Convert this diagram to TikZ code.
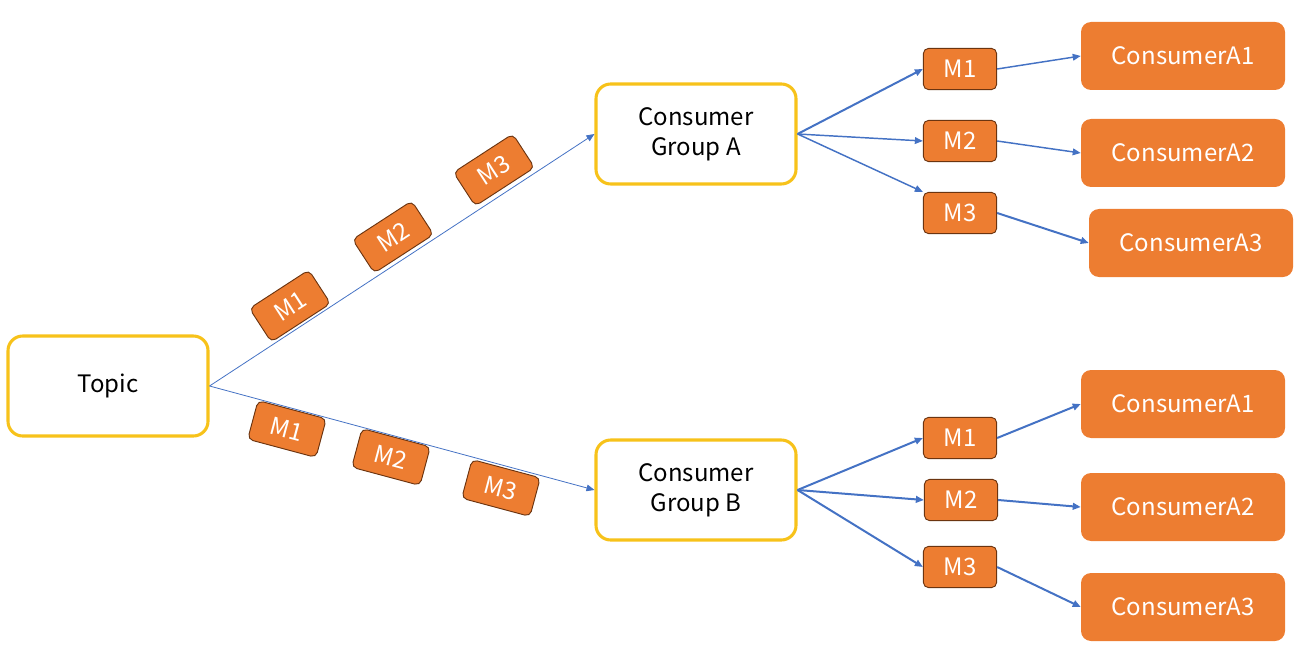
\documentclass[tikz,border=0pt]{standalone}
\usepackage{fontspec}
\setmainfont{Noto Sans CJK SC}
\usetikzlibrary{arrows.meta}
\definecolor{ygold}{HTML}{F7C21A}
\definecolor{orng}{HTML}{ED7D31}
\definecolor{brn}{HTML}{6B3410}
\definecolor{blu}{HTML}{4472C4}
\tikzset{
  grp/.style={draw=ygold, line width=2.3pt, rounded corners=11pt, fill=white,
    minimum width=150pt, minimum height=75pt, align=center,
    font=\fontsize{18}{24}\selectfont, inner sep=0pt},
  msg/.style={draw=brn, line width=0.7pt, fill=orng, rounded corners=4pt,
    minimum width=55pt, minimum height=31pt, text=white,
    font=\fontsize{18}{20}\selectfont, inner sep=0pt},
  rmsg/.style={msg, minimum width=53pt, minimum height=30pt},
  cons/.style={fill=orng, rounded corners=7.5pt, minimum width=153pt,
    minimum height=51pt, text=white, font=\fontsize{18}{20}\selectfont, inner sep=0pt},
  thin/.style={draw=blu, line width=0.6pt, -{Triangle[length=6pt,width=5pt]}},
  thick/.style={draw=blu, line width=1.5pt, -{Triangle[length=6pt,width=5pt]}},
  mid/.style={draw=blu, line width=1.1pt, -{Triangle[length=6pt,width=5pt]}},
}
\begin{document}
\begin{tikzpicture}[x=0.75pt,y=-0.75pt]
\useasboundingbox (0,0) rectangle (1298,645);
\node[grp] (topic) at (108,386) {Topic};
\node[grp] (ga) at (696,134) {\raisebox{-3pt}{\begin{tabular}{@{}c@{}}Consumer\\[-1pt]Group A\end{tabular}}};
\node[grp] (gb) at (696,490) {\raisebox{-3pt}{\begin{tabular}{@{}c@{}}Consumer\\[-1pt]Group B\end{tabular}}};

% rotated messages on topic -> group A
\node[rmsg, rotate=33] (ta1) at (290,306) {M1};
\node[rmsg, rotate=33] (ta2) at (393,237) {M2};
\node[rmsg, rotate=33] (ta3) at (494,170) {M3};
% rotated messages on topic -> group B
\node[rmsg, rotate=-15] (tb1) at (287,429) {M1};
\node[rmsg, rotate=-15] (tb2) at (391,457) {M2};
\node[rmsg, rotate=-15] (tb3) at (501,488) {M3};

\draw[thin] (topic.east) -- (ga.west);
\draw[thin] (topic.east) -- (gb.west);

% group A side
\node[msg] (am1) at (960,69) {M1};
\node[msg] (am2) at (960,141) {M2};
\node[msg] (am3) at (960,213) {M3};
\node[cons] (ac1) at (1183,56) {ConsumerA1};
\node[cons] (ac2) at (1183,153) {ConsumerA2};
\node[cons] (ac3) at (1191,243) {ConsumerA3};

\draw[thick] (ga.east) -- (am1.west);
\draw[mid] (ga.east) -- (am2.west);
\draw[mid] (ga.east) -- (am3.north west);
\draw[mid] (am1.east) -- (ac1.west);
\draw[mid] (am2.east) -- (ac2.west);
\draw[thick] (am3.east) -- (ac3.west);

% group B side
\node[msg] (bm1) at (960,438) {M1};
\node[msg] (bm2) at (961,500) {M2};
\node[msg] (bm3) at (960,567) {M3};
\node[cons] (bc1) at (1183,404) {ConsumerA1};
\node[cons] (bc2) at (1183,507) {ConsumerA2};
\node[cons] (bc3) at (1183,607) {ConsumerA3};

\draw[thick] (gb.east) -- (bm1.west);
\draw[thick] (gb.east) -- (bm2.west);
\draw[thick] (gb.east) -- (bm3.west);
\draw[thick] (bm1.east) -- (bc1.west);
\draw[thick] (bm2.east) -- (bc2.west);
\draw[thick] (bm3.east) -- (bc3.west);
\end{tikzpicture}
\end{document}
